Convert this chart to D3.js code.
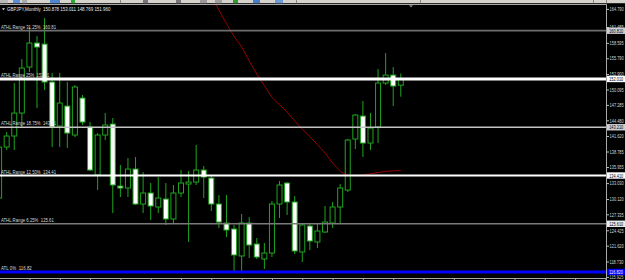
<!DOCTYPE html>
<html><head><meta charset="utf-8">
<script src="https://cdn.jsdelivr.net/npm/d3@7/dist/d3.min.js"></script>
<style>html,body{margin:0;padding:0;background:#000;overflow:hidden}svg{display:block}</style>
</head><body>
<svg id="c" width="625" height="280"></svg>
<script>
// ---------- data ----------
const chartTitle = "GBPJPY,Monthly";
const months = ["2009.02","2009.03","2009.04","2009.05","2009.06","2009.07","2009.08","2009.09","2009.10","2009.11","2009.12",
"2010.01","2010.02","2010.03","2010.04","2010.05","2010.06","2010.07","2010.08","2010.09","2010.10","2010.11","2010.12",
"2011.01","2011.02","2011.03","2011.04","2011.05","2011.06","2011.07","2011.08","2011.09","2011.10","2011.11","2011.12",
"2012.01","2012.02","2012.03","2012.04","2012.05","2012.06","2012.07","2012.08","2012.09","2012.10","2012.11","2012.12",
"2013.01","2013.02","2013.03","2013.04","2013.05","2013.06","2013.07"];
const opens  = [130.31,139.60,141.61,145.80,154.18,158.56,158.37,151.45,143.43,147.07,141.79,148.53,143.25,134.50,141.79,143.79,132.49,132.13,135.59,129.21,131.22,128.67,130.12,126.48,131.22,132.86,133.22,135.41,133.95,129.21,125.75,124.66,119.74,125.75,121.92,119.19,120.28,129.21,133.04,129.58,120.47,125.20,122.29,124.11,125.75,128.67,131.76,141.06,145.25,140.33,143.25,151.27,152.72,150.878];
const highs  = [140.88,142.34,151.27,155.64,161.47,159.83,163.11,153.09,153.09,151.45,150.90,149.08,144.16,142.15,145.80,144.89,136.32,137.60,137.78,135.04,133.04,134.13,133.04,132.68,135.41,135.23,139.97,136.14,134.32,130.85,130.85,125.39,127.39,126.84,123.02,122.11,129.76,133.41,133.22,130.67,125.75,125.75,125.57,128.85,129.58,132.86,141.05,145.60,147.98,145.80,153.82,156.73,154.18,153.011];
const lows   = [129.94,139.05,139.05,143.06,153.27,146.71,149.99,139.60,139.60,139.42,141.42,143.61,135.23,131.76,140.88,127.57,130.49,130.49,129.03,127.57,126.30,127.57,125.39,125.75,130.49,122.29,132.68,130.31,127.94,124.84,123.20,117.00,117.00,119.37,119.19,117.37,119.55,126.66,127.21,120.10,118.64,120.83,121.19,123.93,124.84,125.75,131.40,139.24,137.78,139.05,140.33,150.90,147.07,148.769];
const closes = [139.60,141.61,145.80,154.00,158.56,157.83,151.45,143.25,147.62,142.15,150.54,144.16,135.41,141.79,143.61,132.68,132.13,135.59,129.21,131.22,128.85,130.31,126.48,131.22,133.04,133.22,135.41,134.13,129.21,125.93,124.47,119.92,125.75,121.74,119.55,120.28,129.21,132.68,129.58,120.65,125.39,122.47,124.29,125.93,128.67,132.13,140.88,145.43,140.33,143.06,151.27,152.72,150.72,151.960];
// moving average, starting at month index 28
const maStartIndex = 28;
const maValues = [167.03,164.57,162.11,159.78,157.83,155.29,152.91,150.77,148.71,147.33,145.98,144.36,142.88,141.50,140.06,138.51,136.69,135.23,134.50,134.41,134.50,134.72,134.96,135.17,135.26,135.30];
const priceTicks = [164.790,161.485,158.595,155.790,152.900,150.095,147.285,144.480,141.620,138.785,135.955,133.030,130.120,127.335,124.425,121.620,118.730,115.925];
const levelNames  = ["ATHL Range 31.25%","ATHL Range 25%","ATHL Range 18.75%","ATHL Range 12.50%","ATHL Range 6.25%","ATL 0%"];
const levelValues = [160.81,152.01,143.21,134.41,125.61,116.82];

// ---------- styles ----------
const levelStyle = [
  {stroke:"#6e6e6e", w:1.8, box:"#cfcfcf", txt:"#000"},
  {stroke:"#ffffff", w:3,   box:"#ffffff", txt:"#000"},
  {stroke:"#c4c4c4", w:1.4, box:"#cfcfcf", txt:"#000"},
  {stroke:"#ffffff", w:2,   box:"#ffffff", txt:"#000"},
  {stroke:"#7a7a7a", w:1.4, box:"#ececec", txt:"#000"},
  {stroke:"#0000ff", w:3,   box:"#0000ff", txt:"#ffffff"}
];
const green = "#1fa51f";
const W = 625, H = 280, plotRight = 606.5, plotTop = 4.5, plotBottom = 278.5;
const FONT = "'Liberation Sans', Arial, sans-serif";
const CH = 2.2;      // px per character of the tiny MT4 font
const AX_SX = 0.72;  // horizontal squeeze of price-axis labels

const svg = d3.select("#c");
const x = d3.scaleLinear().domain([0, months.length - 1]).range([-0.9, 400.8]);
const y = d3.scaleLinear().domain([116.82, 160.81]).range([272, 30.7]);

svg.append("rect").attr("width", W).attr("height", H).attr("fill", "#000");

// toolbar remnant at the top
const tb = svg.append("g");
tb.append("rect").attr("x",0).attr("y",0).attr("width",W).attr("height",3.2).attr("fill","#d6d3cc");
[[0,8,"#b9b9b9"],[13,20,"#5b8fd6"],[22,27,"#a9a9a9"],[50,60,"#4f86d0"],[71,75,"#2fa82f"],[120,121,"#888"],[143,148,"#777"],[176,181,"#777"],
 [200,207,"#9a9a9a"],[215,222,"#a0a0a0"],[233,238,"#2f9a2f"],[253,260,"#4a7fc8"],[275,283,"#6f9bd6"],[296,297,"#888"],[420,421,"#888"],[593,594,"#888"],[606,607,"#888"]]
  .forEach(([a,b,c]) => tb.append("rect").attr("x",a).attr("y",0).attr("width",b-a).attr("height",3.2).attr("fill",c));

// chart frame
svg.append("line").attr("x1",0).attr("x2",plotRight).attr("y1",plotTop).attr("y2",plotTop).attr("stroke","#a8a8a8").attr("stroke-width",1);
svg.append("line").attr("x1",plotRight).attr("x2",plotRight).attr("y1",plotTop).attr("y2",H).attr("stroke","#a8a8a8").attr("stroke-width",1);

svg.append("clipPath").attr("id","plot").append("rect")
  .attr("x",0).attr("y",plotTop+0.5).attr("width",plotRight-0.5).attr("height",plotBottom-plotTop-1);
const g = svg.append("g").attr("clip-path","url(#plot)");

// candles
const data = months.map((m,i) => ({i, m, o:opens[i], h:highs[i], l:lows[i], c:closes[i]}));
g.selectAll("line.wick").data(data).join("line").attr("class","wick")
  .attr("x1",d=>x(d.i)).attr("x2",d=>x(d.i)).attr("y1",d=>y(d.h)).attr("y2",d=>y(d.l))
  .attr("stroke",green).attr("stroke-width",1);
g.selectAll("rect.body").data(data).join("rect").attr("class","body")
  .attr("x",d=>x(d.i)-2.5).attr("width",5)
  .attr("y",d=>y(Math.max(d.o,d.c)))
  .attr("height",d=>Math.max(1,Math.abs(y(d.o)-y(d.c))))
  .attr("fill",d=>d.c>=d.o ? "#000" : "#fff")
  .attr("stroke",green).attr("stroke-width",1);

// moving average
g.append("path").datum(maValues)
  .attr("d", d3.line().x((v,j)=>x(maStartIndex+j)).y(v=>y(v)).curve(d3.curveMonotoneX))
  .attr("fill","none").attr("stroke","#9a0000").attr("stroke-width",1);

// level lines
levelValues.forEach((v,k) => {
  g.append("line").attr("x1",0).attr("x2",plotRight).attr("y1",y(v)).attr("y2",y(v))
    .attr("stroke",levelStyle[k].stroke).attr("stroke-width",levelStyle[k].w);
});
// level labels
levelValues.forEach((v,k) => {
  const s = levelNames[k] + "  " + v.toFixed(2);
  svg.append("text").attr("x",1).attr("y",y(v)-2)
    .attr("font-family",FONT).attr("font-size","5.6px").attr("fill","#d8d8d8")
    .attr("textLength", s.length*CH).attr("lengthAdjust","spacingAndGlyphs")
    .style("white-space","pre").text(s);
});

// title
const titleStr = chartTitle + "  " + [opens[53],highs[53],lows[53],closes[53]].map(d3.format(".3f")).join(" ");
svg.append("path").attr("d","M2,8.2 L5,8.2 L3.5,10.2 Z").attr("fill","#e0e0e0");
svg.append("text").attr("x",7).attr("y",11)
  .attr("font-family",FONT).attr("font-size","5.6px").attr("fill","#e8e8e8")
  .attr("textLength", titleStr.length*CH).attr("lengthAdjust","spacingAndGlyphs")
  .style("white-space","pre").text(titleStr);

// chart shift marker
svg.append("path").attr("d","M409,5.2 L413,5.2 L411,7.6 Z").attr("fill","#8a8a8a");

// right price axis
const ay = svg.append("g").attr("transform",`translate(${plotRight},0)`)
  .call(d3.axisRight(y).tickValues(priceTicks).tickSize(2.5).tickPadding(0.6).tickFormat(d3.format(".3f")));
ay.select(".domain").remove();
ay.selectAll(".tick line").attr("stroke","#bdbdbd");
ay.selectAll(".tick text").attr("fill","#d8d8d8").attr("font-family",FONT).attr("font-size","5.4px")
  .attr("x", 3.1/AX_SX).attr("transform",`scale(${AX_SX},1)`);

// highlighted level prices on the axis
levelValues.forEach((v,k) => {
  svg.append("rect").attr("x",607).attr("y",y(v)-3.2).attr("width",18).attr("height",6.4).attr("fill",levelStyle[k].box);
  svg.append("text").attr("transform",`translate(609.2,${y(v)+2}) scale(${AX_SX},1)`)
    .attr("font-family",FONT).attr("font-size","5.4px").attr("fill",levelStyle[k].txt)
    .text(d3.format(".3f")(v));
});

// bottom time axis (labels fall below the visible area)
const tickIdx = d3.range(4, 81, 4);
const ax = svg.append("g").attr("transform",`translate(0,${plotBottom})`)
  .call(d3.axisBottom(x).tickValues(tickIdx).tickSize(2.5).tickFormat(""));
ax.select(".domain").remove();
ax.selectAll(".tick line").attr("stroke","#a8a8a8");
svg.append("line").attr("x1",0).attr("x2",plotRight).attr("y1",plotBottom).attr("y2",plotBottom).attr("stroke","#a8a8a8").attr("stroke-width",1);
</script>
</body></html>
